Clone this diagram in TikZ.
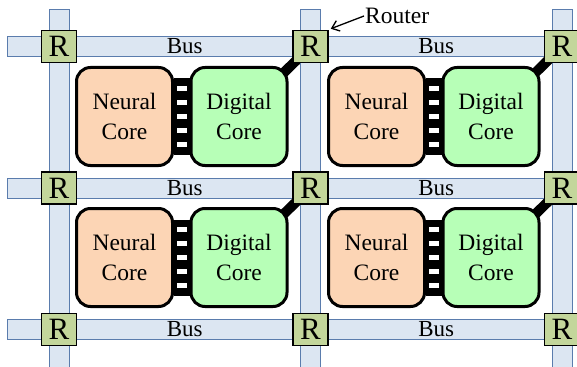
\documentclass[tikz,border=0pt]{standalone}
\usepackage{fontspec}
\setmainfont{Liberation Serif}
\usetikzlibrary{arrows, arrows.meta, backgrounds}

\definecolor{busfill}{HTML}{DCE6F2}
\definecolor{busline}{HTML}{5A7CAD}
\definecolor{routerfill}{HTML}{C3D69B}
\definecolor{neuralfill}{HTML}{FCD5B5}
\definecolor{digitalfill}{HTML}{B7FFB7}

\begin{document}
\begin{tikzpicture}[x=1pt,y=-1pt,
  bus/.style={draw=busline,fill=busfill,line width=1pt},
  router/.style={draw,fill=routerfill,line width=1.5pt,minimum width=35pt,minimum height=32pt,inner sep=0pt,font=\fontsize{31}{31}\selectfont},
  core/.style={draw,line width=3pt,rounded corners=14pt,minimum width=96pt,minimum height=98pt,inner sep=0pt,align=center,font=\fontsize{23.5}{30}\selectfont},
  neural/.style={core,fill=neuralfill},
  digital/.style={core,fill=digitalfill},
  buslabel/.style={font=\fontsize{23}{23}\selectfont},
  corelink/.style={line width=76pt},
  routerlink/.style={line width=10pt}]
\useasboundingbox (0,0) rectangle (577,366);
\clip (0,0) rectangle (577,366);
% buses
\foreach \i in {0,1,2} \draw[bus] (49+251.5*\i,10) rectangle (69+251.5*\i,372);
\foreach \j in {0,1,2} \draw[bus] (7,36.5+141.5*\j) rectangle (590,56.5+141.5*\j);
% routers
\foreach \i in {0,1,2}
  \foreach \j in {0,1,2}
    \node[router] (r\i\j) at (59+251.5*\i,46.5+141.5*\j) {R};
\foreach \i in {0,1}
  \foreach \j in {0,1,2}
  {\pgfmathtruncatemacro\k{\i+1}
   \path (r\i\j) -- (r\k\j) node[midway,buslabel] {Bus};}
% cores
\foreach \i in {0,1}
  \foreach \j in {0,1}
  {\pgfmathtruncatemacro\k{\i+1}
   \node[neural] (nc\i\j) at (124.5+252*\i,116.5+141*\j) {Neural\\Core};
   \node[digital] (dc\i\j) at (239+252*\i,116.5+141*\j) {Digital\\Core};
   \draw[corelink] (nc\i\j.east) -- (dc\i\j.west);
   \foreach \dy in {-28,-14,0,14,28}
     \fill[white] ([xshift=3pt,yshift=\dy pt-2.5pt]nc\i\j.east) rectangle ([xshift=-3pt,yshift=\dy pt+2.5pt]dc\i\j.west);
   \begin{scope}[on background layer]
     \draw[routerlink] (dc\i\j.center) -- (r\k\j.center);
   \end{scope}}
% label
\node[right,font=\fontsize{23.5}{23.5}\selectfont,inner sep=1pt] (routerlabel) at (364,16) {Router};
\draw[-{Straight Barb[length=7pt,width=11pt]},line width=1.3pt] (routerlabel.west) -- ([shift={(2pt,1pt)}]r10.north east);
\end{tikzpicture}
\end{document}
